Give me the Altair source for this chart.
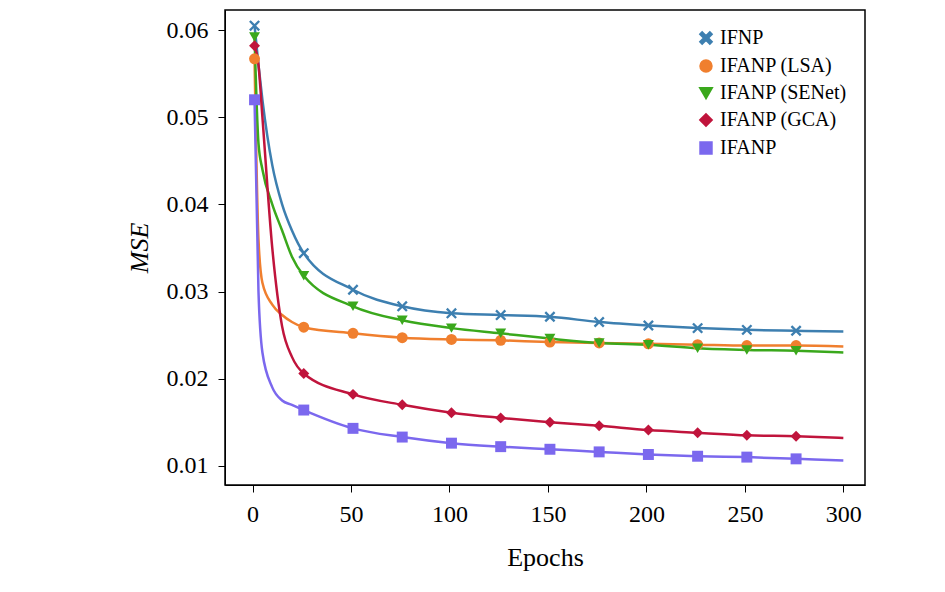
import altair as alt
import pandas as pd

series = ["IFNP", "IFANP (LSA)", "IFANP (SENet)", "IFANP (GCA)", "IFANP"]
colors = ["#3d7fb0", "#f07f2e", "#3aa81c", "#c0143c", "#7b68ee"]
epochs = [1, 3, 5, 10, 15, 20, 26, 51, 76, 101, 126, 151, 176, 201, 226, 251, 276, 300]
ifnp = [0.0605, 0.056, 0.052, 0.0445, 0.040, 0.037, 0.0344, 0.0302, 0.0283, 0.0275, 0.0273, 0.0271, 0.0265, 0.0261, 0.0258, 0.0256, 0.0255, 0.0254]
lsa = [0.0567, 0.036, 0.031, 0.0285, 0.0273, 0.0265, 0.0259, 0.0252, 0.0247, 0.0245, 0.0244, 0.0242, 0.0241, 0.0240, 0.0239, 0.0238, 0.0238, 0.0237]
senet = [0.0592, 0.047, 0.044, 0.040, 0.037, 0.034, 0.0318, 0.0283, 0.0267, 0.0258, 0.0252, 0.0246, 0.0241, 0.0239, 0.0235, 0.0233, 0.0232, 0.0230]
gca = [0.0582, 0.056, 0.050, 0.035, 0.026, 0.0225, 0.0206, 0.0182, 0.0170, 0.0161, 0.0155, 0.0150, 0.0146, 0.0141, 0.0138, 0.0135, 0.0134, 0.0132]
ifanp = [0.0520, 0.030, 0.023, 0.019, 0.0175, 0.017, 0.0164, 0.0143, 0.0133, 0.0126, 0.0122, 0.0119, 0.0116, 0.0113, 0.0111, 0.0110, 0.0108, 0.0106]
marker_epochs = [1, 26, 51, 76, 101, 126, 151, 176, 201, 226, 251, 276]

xpath = "M-1,-0.7L-0.7,-1L0,-0.3L0.7,-1L1,-0.7L0.3,0L1,0.7L0.7,1L0,0.3L-0.7,1L-1,0.7L-0.3,0Z"
shapes = [xpath, "circle", "triangle-down", "diamond", "square"]

rows = []
for name, vals in zip(series, [ifnp, lsa, senet, gca, ifanp]):
    for e, v in zip(epochs, vals):
        rows.append({"series": name, "epoch": e, "mse": v, "marker": e in marker_epochs})
df = pd.DataFrame(rows)

font = "Liberation Serif"
x = alt.X("epoch:Q", title="Epochs", scale=alt.Scale(domain=[-14, 311], nice=False),
          axis=alt.Axis(values=[0, 50, 100, 150, 200, 250, 300], grid=False))
y = alt.Y("mse:Q", title="MSE", scale=alt.Scale(domain=[0.0078, 0.0623], nice=False, zero=False),
          axis=alt.Axis(values=[0.01, 0.02, 0.03, 0.04, 0.05, 0.06], format=".2f", grid=False,
                        titleFontStyle="italic", titlePadding=14))
color = alt.Color("series:N", scale=alt.Scale(domain=series, range=colors), title=None,
                  sort=series)
shape = alt.Shape("series:N", scale=alt.Scale(domain=series, range=shapes), title=None,
                  sort=series)

lines = alt.Chart(df).mark_line(interpolate="monotone", strokeWidth=2.5).encode(
    x=x, y=y, color=color, detail="series:N")
pts = alt.Chart(df).transform_filter("datum.marker").mark_point(filled=True, size=120, opacity=1).encode(
    x=x, y=y, color=color, shape=shape)

chart = alt.layer(lines, pts).properties(
    width=640, height=475, padding={"left": 118, "top": 2, "right": 5, "bottom": 5}
).configure_view(stroke="black", strokeWidth=1.5).configure_axis(
    labelFont=font, titleFont=font, labelFontSize=24, titleFontSize=26, labelColor="black",
    titleColor="black", domainColor="black", tickColor="black", tickSize=7, titleFontWeight="normal",
    labelPadding=10
).configure_axisX(titlePadding=18).configure_legend(
    orient="top-right", labelFont=font, labelFontSize=20, labelColor="black", symbolSize=120,
    padding=8, offset=10, rowPadding=6, symbolStrokeWidth=2.5
)
chart.save("out.html", embed_options={"renderer": "svg", "actions": False})
